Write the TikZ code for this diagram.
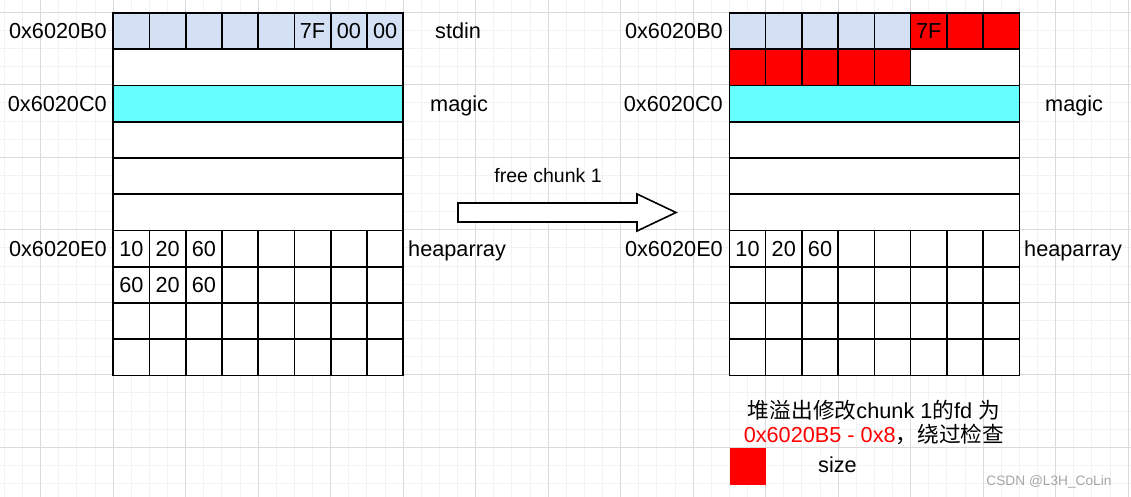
\documentclass[tikz,border=0pt]{standalone}
\usepackage{fontspec}
\setmainfont{Liberation Sans}
\newfontfamily\cjk{Noto Sans CJK SC}
\usetikzlibrary{positioning}
\definecolor{stdinblue}{HTML}{D4E1F5}
\definecolor{magiccyan}{HTML}{66FFFF}
\definecolor{gridminor}{HTML}{F2F2F2}
\definecolor{gridmajor}{HTML}{DADADA}
\newcommand{\memfont}{\fontsize{21.7}{24}\selectfont}
\tikzset{
        cell/.style={draw, line width=1.6pt, minimum width=36.25pt, minimum height=36.25pt, inner sep=0pt, font=\memfont}, % one byte
        wide/.style={cell, minimum width=290pt}, % one 8-byte row
        addr/.style={anchor=base east, inner sep=0pt, font=\memfont},
        tag/.style={anchor=base west, inner sep=0pt, font=\memfont},
        minorline/.style={gridminor, line width=1pt},
        majorline/.style={gridmajor, line width=1pt}
        }

\begin{document}
\begin{tikzpicture}[x=1pt, y=-1pt]
        \useasboundingbox (0,0) rectangle (1131,497);
        % background grid
        \begin{scope}
          \clip (0,0) rectangle (1131,497);
          \fill[white] (0,0) rectangle (1131,497);
          \foreach \k in {0,...,62} \draw[minorline] ({4.45+18.125*\k},0) -- ++(0,497);
          \foreach \k in {0,...,27} \draw[minorline] (0,{-5.8+18.125*\k}) -- ++(1131,0);
          \foreach \k in {0,...,15} \draw[majorline] ({40.7+72.5*\k},0) -- ++(0,497);
          \foreach \k in {0,...,6} \draw[majorline] (0,{12.3+72.5*\k}) -- ++(1131,0);
        \end{scope}

        % left block, before free
        \foreach \t [count=\i from 0] in {{},{},{},{},{},7F,00,00}
          \node[cell, fill=stdinblue] (l-0-\i) at ({113.2+36.25*(\i+0.5)}, 31.1) {\t};
        \node[wide, fill=white] (l-1) at (258.2, 67.4) {};
        \node[wide, fill=magiccyan] (l-2) at (258.2, 103.6) {};
        \foreach \r in {3,4,5}
          \node[wide, fill=white] (l-\r) at (258.2, {13+36.25*(\r+0.5)}) {};
        \foreach \t [count=\i from 0] in {10,20,60,{},{},{},{},{}}
          \node[cell, fill=white] (l-6-\i) at ({113.2+36.25*(\i+0.5)}, 248.6) {\t};
        \foreach \t [count=\i from 0] in {60,20,60,{},{},{},{},{}}
          \node[cell, fill=white] (l-7-\i) at ({113.2+36.25*(\i+0.5)}, 284.9) {\t};
        \foreach \r in {8,9}
          \foreach \i in {0,...,7}
            \node[cell, fill=white] (l-\r-\i) at ({113.2+36.25*(\i+0.5)}, {13+36.25*(\r+0.5)}) {};

        \node[addr] (addr-b0-l) at (107, 38.8) {0x6020B0};
        \node[addr] (addr-c0-l) at (107, 111.3) {0x6020C0};
        \node[addr] (addr-e0-l) at (107, 256.3) {0x6020E0};
        \node[tag] (stdin-l) at (435, 38.8) {stdin};
        \node[tag] (magic-l) at (430, 111.3) {magic};
        \node[tag] (heap-l) at (408, 256.3) {heaparray};

        % the step between them
        \draw[line width=1.6pt, fill=white] (458,203) -- (637,203) -- (637,194) -- (676,212.5)
              -- (637,231) -- (637,222) -- (458,222) -- cycle;
        \node[font=\fontsize{19.5}{22}\selectfont] (free-lbl) at (548,176) {free chunk 1};

        % right block, after free
        \foreach \i in {0,...,4}
          \node[cell, fill=stdinblue] (r-0-\i) at ({729.4+36.25*(\i+0.5)}, 31.1) {};
        \foreach \t [count=\i from 5] in {7F,{},{}}
          \node[cell, fill=red] (r-0-\i) at ({729.4+36.25*(\i+0.5)}, 31.1) {\t};
        \foreach \i in {0,...,4}
          \node[cell, fill=red] (r-1-\i) at ({729.4+36.25*(\i+0.5)}, 67.4) {};
        \node[cell, fill=white, minimum width=108.75pt] (r-1-rest) at (965.0, 67.4) {};
        \node[wide, fill=magiccyan] (r-2) at (874.4, 103.6) {};
        \foreach \r in {3,4,5}
          \node[wide, fill=white] (r-\r) at (874.4, {13+36.25*(\r+0.5)}) {};
        \foreach \t [count=\i from 0] in {10,20,60,{},{},{},{},{}}
          \node[cell, fill=white] (r-6-\i) at ({729.4+36.25*(\i+0.5)}, 248.6) {\t};
        \foreach \r in {7,8,9}
          \foreach \i in {0,...,7}
            \node[cell, fill=white] (r-\r-\i) at ({729.4+36.25*(\i+0.5)}, {13+36.25*(\r+0.5)}) {};

        \node[addr] (addr-b0-r) at (723, 38.8) {0x6020B0};
        \node[addr] (addr-c0-r) at (723, 111.3) {0x6020C0};
        \node[addr] (addr-e0-r) at (723, 256.3) {0x6020E0};
        \node[tag] (magic-r) at (1045, 111.3) {magic};
        \node[tag] (heap-r) at (1024, 256.3) {heaparray};

        % note and legend
        \node[align=center, font=\memfont] (note) at (874, 422)
              {{\cjk 堆溢出修改}chunk 1{\cjk 的}fd {\cjk 为}\\\textcolor{red}{0x6020B5 - 0x8}{\cjk ，绕过检查}};
        \node[fill=red, minimum size=36.25pt, inner sep=0pt] (size-box) at (748, 466.5) {};
        \node[font=\memfont] (size-lbl) at (837.5, 465) {size};
        \node[anchor=base east, font=\fontsize{13.7}{16}\selectfont, text=black!35] (mark) at (1115, 485) {CSDN @L3H\_CoLin};
\end{tikzpicture}
\end{document}
